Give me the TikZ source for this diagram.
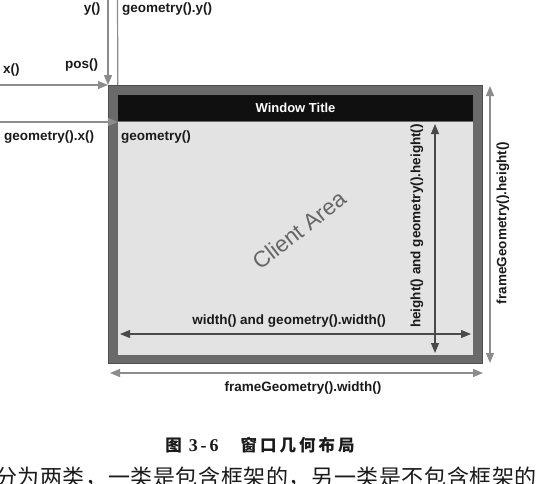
\documentclass[tikz,border=0pt]{standalone}
\usepackage{fontspec}
\setmainfont{Liberation Sans}
\newfontfamily\cjksans{Noto Sans CJK SC}
\newfontfamily\capserif{Liberation Serif}
\usetikzlibrary{arrows.meta}

\definecolor{framegray}{HTML}{6A6A6A}
\definecolor{frameedge}{HTML}{4E4E4E}
\definecolor{titleblack}{HTML}{101010}
\definecolor{clientgray}{HTML}{E3E3E3}
\definecolor{outerline}{HTML}{8C8C8C}
\definecolor{innerline}{HTML}{4A4A4A}
\definecolor{labelink}{HTML}{1A1A1A}
\definecolor{areaink}{HTML}{666666}

\pgfdeclarelayer{background}
\pgfsetlayers{background,main}

\begin{document}
\begin{tikzpicture}[x=1pt,y=-1pt,
  box/.style={rectangle, inner sep=0pt, outer sep=0pt},
  lbl/.style={font=\fontsize{13.5}{16}\selectfont\bfseries, text=labelink, inner sep=0pt},
  outerarrow/.style={draw=outerline, line width=1.2pt,
    -{Triangle[width=8pt,length=10pt]}},
  outerdim/.style={draw=outerline, line width=1.2pt,
    {Triangle[width=8pt,length=10pt]}-{Triangle[width=8pt,length=10pt]}},
  innerdim/.style={draw=innerline, line width=1.1pt,
    {Triangle[width=8pt,length=10pt]}-{Triangle[width=8pt,length=10pt]}},
]
\useasboundingbox (0,0) rectangle (541,483);

% window: frame, title bar and client area
\node[box, fill=framegray, draw=frameedge, line width=1pt,
      minimum width=374pt, minimum height=278pt] (frame) at (295,224) {};
\node[box, fill=titleblack, minimum width=355pt, minimum height=26pt,
      font=\fontsize{13}{15}\selectfont\bfseries, text=white] (title) at (295.5,108) {Window Title};
\node[box, fill=clientgray, minimum width=355pt, minimum height=233pt] (client) at (295.5,238.5) {};

\node[font=\fontsize{22.5}{26}\selectfont, text=areaink, rotate=38, inner sep=0pt] (area) at (299,230) {Client Area};

% free ends of the position arrows
\coordinate (ytop) at (108,0);
\coordinate (xleft) at (0,85);
\coordinate (gytop) at (117.5,0);
\coordinate (gxleft) at (0,122);

% pos(): frame corner
\draw[outerarrow] (ytop) -- (frame.north west);
\draw[outerarrow] (xleft) -- (frame.north west);
% geometry(): client corner
\begin{pgfonlayer}{background}
\draw[outerarrow] (gytop) -- (client.north west);
\end{pgfonlayer}
\draw[outerarrow] (gxleft) -- (client.north west);

% size arrows
\coordinate (wl) at (120,334);
\coordinate (wr) at (471,334);
\coordinate (ht) at (435,124);
\coordinate (hb) at (435,353);
\coordinate (fwl) at (110,373);
\coordinate (fwr) at (483,373);
\coordinate (fht) at (490,86);
\coordinate (fhb) at (490,363);
\draw[innerdim] (wl) -- (wr);
\draw[innerdim] (ht) -- (hb);
\draw[outerdim] (fwl) -- (fwr);
\draw[outerdim] (fht) -- (fhb);

% labels
\node[lbl, anchor=east] (ylbl) at (100.5,9) {y()};
\node[lbl, anchor=west] (gylbl) at (122,9) {geometry().y()};
\node[lbl, anchor=west] (xlbl) at (3,70) {x()};
\node[lbl, anchor=west] (poslbl) at (65,65) {pos()};
\node[lbl, anchor=west] (gxlbl) at (4,137) {geometry().x()};
\node[lbl, anchor=west] (glbl) at (121,137) {geometry()};
\node[lbl] (wlbl) at (289,321) {width() and geometry().width()};
\node[lbl, rotate=90] (hlbl) at (417,226) {height() and geometry().height()};
\node[lbl] (fwlbl) at (303,388) {frameGeometry().width()};
\node[lbl, rotate=90] (fhlbl) at (503,223) {frameGeometry().height()};

% caption and the following line of body text
\node[inner sep=0pt, text=labelink] (caption) at (260,445)
  {{\cjksans\bfseries\fontsize{16.5}{18}\selectfont 图}\hspace{7pt}%
   {\capserif\bfseries\fontsize{18}{20}\selectfont 3\,-\,6}\hspace{22pt}%
   {\cjksans\bfseries\fontsize{16.5}{18}\selectfont 窗\kern3pt 口\kern3pt 几\kern3pt 何\kern3pt 布\kern3pt 局}};
\node[inner sep=0pt, anchor=base west, text=labelink,
      font=\cjksans\fontsize{22}{24}\selectfont] (body) at (-5,485)
  {分\kern0.6pt 为\kern0.6pt 两\kern0.6pt 类\kern0.6pt ，\kern0.6pt 一\kern0.6pt 类\kern0.6pt 是\kern0.6pt 包\kern0.6pt 含\kern0.6pt 框\kern0.6pt 架\kern0.6pt 的\kern0.6pt ，\kern0.6pt 另\kern0.6pt 一\kern0.6pt 类\kern0.6pt 是\kern0.6pt 不\kern0.6pt 包\kern0.6pt 含\kern0.6pt 框\kern0.6pt 架\kern0.6pt 的};
\end{tikzpicture}
\end{document}
